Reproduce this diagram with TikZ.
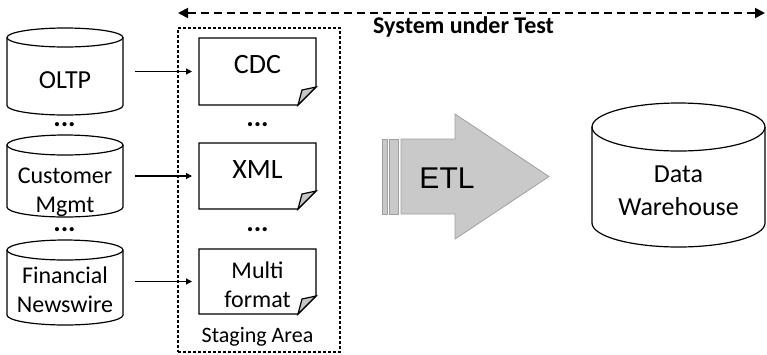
\documentclass[tikz,border=0pt]{standalone}
\usepackage{fontspec}
\setmainfont{Carlito}
\newfontfamily\etlfont{Liberation Sans}
\usetikzlibrary{arrows.meta}

% cylinder outline: left x, right x, top-ellipse centre y, bottom-ellipse centre y, half-height of the caps
\newcommand\dbcylinder[5]{%
  \pgfmathsetmacro\cylcx{(#1+#2)/2}%
  \pgfmathsetmacro\cylrx{(#2-#1)/2}%
  \draw[outl] (\cylcx,#3) ellipse [x radius=\cylrx, y radius=#5];
  \draw[outl] (#1,#3) -- (#1,#4) arc [start angle=180, end angle=0, x radius=\cylrx, y radius=#5] -- (#2,#3);
}
% paper sheet with a folded lower right corner, drawn round a named node
\newcommand\sheet[1]{%
  \draw[outl, fill=white] (#1.north west) -- (#1.north east) -- ([yshift=18bp]#1.south east)
    -- ([xshift=-18bp]#1.south east) -- (#1.south west) -- cycle;
  \draw[outl, fill=gray!45] ([yshift=18bp]#1.south east) -- ([xshift=-14bp,yshift=15bp]#1.south east)
    -- ([xshift=-18bp]#1.south east) -- cycle;
}

\begin{document}
\begin{tikzpicture}[x=1bp,y=-1bp,
  outl/.style={line width=1.2bp, black},
  area/.style={inner sep=0pt, outer sep=0pt, draw=none},
  txt/.style={inner sep=0pt, anchor=base},
  big/.style={txt, font=\fontsize{26bp}{31bp}\selectfont},
  doctext/.style={txt, font=\fontsize{28bp}{34bp}\selectfont},
  mid/.style={txt, font=\fontsize{24bp}{29bp}\selectfont},
  dots/.style={inner sep=0pt, font=\bfseries\fontsize{28bp}{32bp}\selectfont},
  conn/.style={line width=1.2bp, -{Triangle[length=6bp,width=6bp]}, shorten <=12bp, shorten >=7bp},
  etlshape/.style={fill=gray!42, draw=gray!75, line width=0.8bp},
]
\useasboundingbox (0,0) rectangle (767,354);

% source systems
\node[area, minimum width=116bp, minimum height=87bp] (oltp) at (65,71.5) {};
\node[area, minimum width=116bp, minimum height=82bp] (crm) at (65,176) {};
\node[area, minimum width=116bp, minimum height=85bp] (news) at (65,282.5) {};
\dbcylinder{7}{123}{37.5}{105.5}{9.5}
\dbcylinder{7}{123}{145}{207}{10}
\dbcylinder{7}{123}{250}{315}{10}
\node[big] (oltpT) at (65,88) {OLTP};
\node[mid] (crmT1) at (65,183) {Customer};
\node[mid] (crmT2) at (65,212) {Mgmt};
\node[mid] (newsT1) at (65,283) {Financial};
\node[mid] (newsT2) at (65,312) {Newswire};
\node[dots] (srcdots1) at (64.5,125) {...};
\node[dots] (srcdots2) at (64.5,230) {...};

% staging area
\node[area, draw=black, line width=1.2bp, dash pattern=on 3bp off 2bp,
      minimum width=162bp, minimum height=324bp] (stage) at (259,190) {};
\node[txt, font=\fontsize{22bp}{26bp}\selectfont] (stageT) at (257.5,342) {Staging Area};

\node[area, minimum width=117bp, minimum height=67bp] (cdc) at (257.5,71.5) {};
\node[area, minimum width=117bp, minimum height=66bp] (xml) at (257.5,176) {};
\node[area, minimum width=117bp, minimum height=65bp] (multi) at (257.5,281.5) {};
\sheet{cdc}
\sheet{xml}
\sheet{multi}
\node[doctext] (cdcT) at (257.5,73) {CDC};
\node[doctext] (xmlT) at (257.5,178) {XML};
\node[mid] (multiT1) at (257.5,278) {Multi};
\node[mid] (multiT2) at (257.5,307) {format};
\node[dots] (stgdots1) at (257.5,125) {...};
\node[dots] (stgdots2) at (257.5,230) {...};

% feeds into the staging area
\draw[conn] (cdc.west -| oltp.east) -- (cdc.west);
\draw[conn] (xml.west -| crm.east) -- (xml.west);
\draw[conn] (multi.west -| news.east) -- (multi.west);

% extent of the system under test
\coordinate (sutL) at (178,13);
\coordinate (sutR) at (765,13);
\draw[line width=1.8bp, dash pattern=on 8bp off 5bp,
      {Triangle[length=10bp,width=10bp]}-{Triangle[length=10bp,width=10bp]}] (sutL) -- (sutR);
\node[txt, anchor=base west, font=\bfseries\fontsize{24bp}{29bp}\selectfont] (sut) at (373,33) {System under Test};

% ETL block arrow
\draw[etlshape] (382,139) rectangle (387,214);
\draw[etlshape] (389,139) rectangle (398,214);
\draw[etlshape] (401,139) -- (455,139) -- (455,114) -- (549,176.5) -- (455,239) -- (455,214) -- (401,214) -- cycle;
\node[txt, font=\etlfont\fontsize{30bp}{36bp}\selectfont] (etl) at (447,188) {ETL};

% data warehouse
\node[area, minimum width=173bp, minimum height=144bp] (dw) at (678.5,175) {};
\dbcylinder{592}{765}{127}{223}{24}
\node[big] (dwT1) at (678.5,182) {Data};
\node[big] (dwT2) at (678.5,215) {Warehouse};
\end{tikzpicture}
\end{document}
